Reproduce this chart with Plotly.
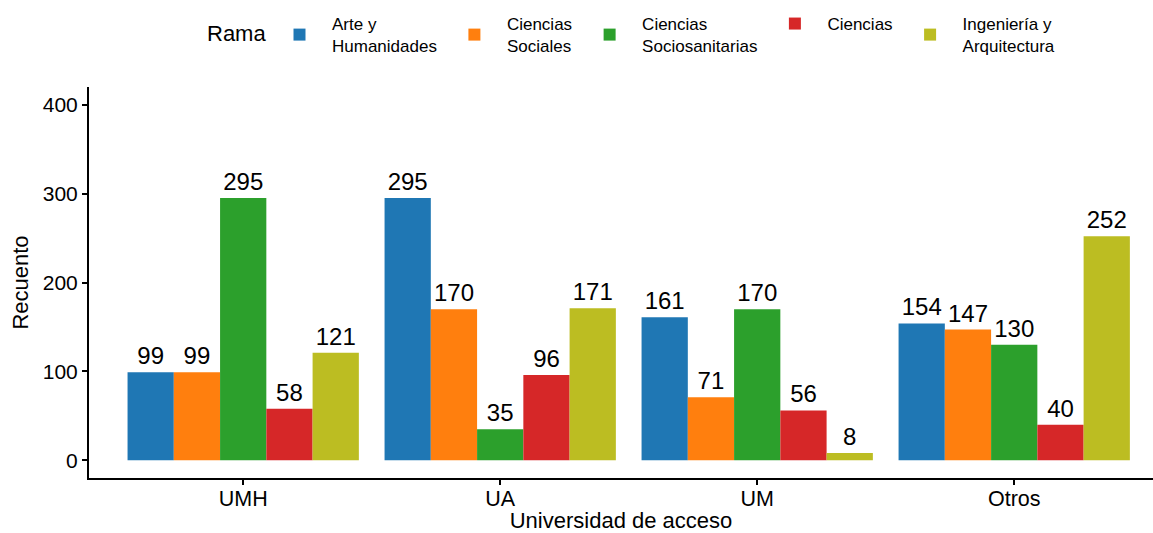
import plotly.graph_objects as go

universidades = ["UMH", "UA", "UM", "Otros"]
ramas = ["Arte y<br>Humanidades", "Ciencias<br>Sociales", "Ciencias<br>Sociosanitarias", "Ciencias", "Ingeniería y<br>Arquitectura"]
colores = ["#1f77b4", "#ff7f0e", "#2ca02c", "#d62728", "#bcbd22"]
arte = [99, 295, 161, 154]
sociales = [99, 170, 71, 147]
sociosanitarias = [295, 35, 170, 130]
ciencias = [58, 96, 56, 40]
ingenieria = [121, 171, 8, 252]
series = [arte, sociales, sociosanitarias, ciencias, ingenieria]
yticks = [0, 100, 200, 300, 400]

FONT = "Liberation Sans, Arial, sans-serif"
fig = go.Figure()
for name, col, vals in zip(ramas, colores, series):
    fig.add_trace(go.Bar(
        x=universidades, y=vals, name=name, marker_color=col, marker_line_width=0,
        text=[str(v) for v in vals], textposition="outside", cliponaxis=False,
        textfont=dict(size=24, color="black", family=FONT),
    ))

fig.update_layout(
    width=1153, height=533,
    barmode="group", bargap=0.1, bargroupgap=0,
    plot_bgcolor="white", paper_bgcolor="white",
    font=dict(family=FONT, color="black"),
    margin=dict(l=89, r=0, t=87, b=55, autoexpand=False),
    legend=dict(
        orientation="h", xref="container", yref="container",
        x=267 / 1153, xanchor="left", y=1 - 35 / 533, yanchor="middle",
        font=dict(size=17, color="black"), itemwidth=55,
    ),
    annotations=[dict(
        text="Rama", xref="paper", yref="paper",
        x=(205 - 89) / 1064, y=(478 - 33) / 391, xanchor="left", yanchor="middle",
        showarrow=False, font=dict(size=22, color="black"),
    )],
    xaxis=dict(
        range=[-0.6, 3.54], showline=True, linecolor="black", linewidth=2,
        ticks="outside", ticklen=5, tickcolor="black", tickwidth=1.5,
        tickfont=dict(size=21.5, color="black"), ticklabelstandoff=-5,
        title=dict(text="Universidad de acceso", font=dict(size=22, color="black"), standoff=5),
        showgrid=False, zeroline=False,
    ),
    yaxis=dict(
        range=[-20, 420], tickvals=yticks, showline=True, linecolor="black", linewidth=2,
        ticks="outside", ticklen=5, tickcolor="black", tickwidth=1.5,
        tickfont=dict(size=21, color="black"),
        title=dict(text="Recuento", font=dict(size=22, color="black"), standoff=8),
        showgrid=False, zeroline=False,
    ),
)
fig.write_html("out.html", config={"displayModeBar": False},
               post_script="document.body.style.margin='0';")
